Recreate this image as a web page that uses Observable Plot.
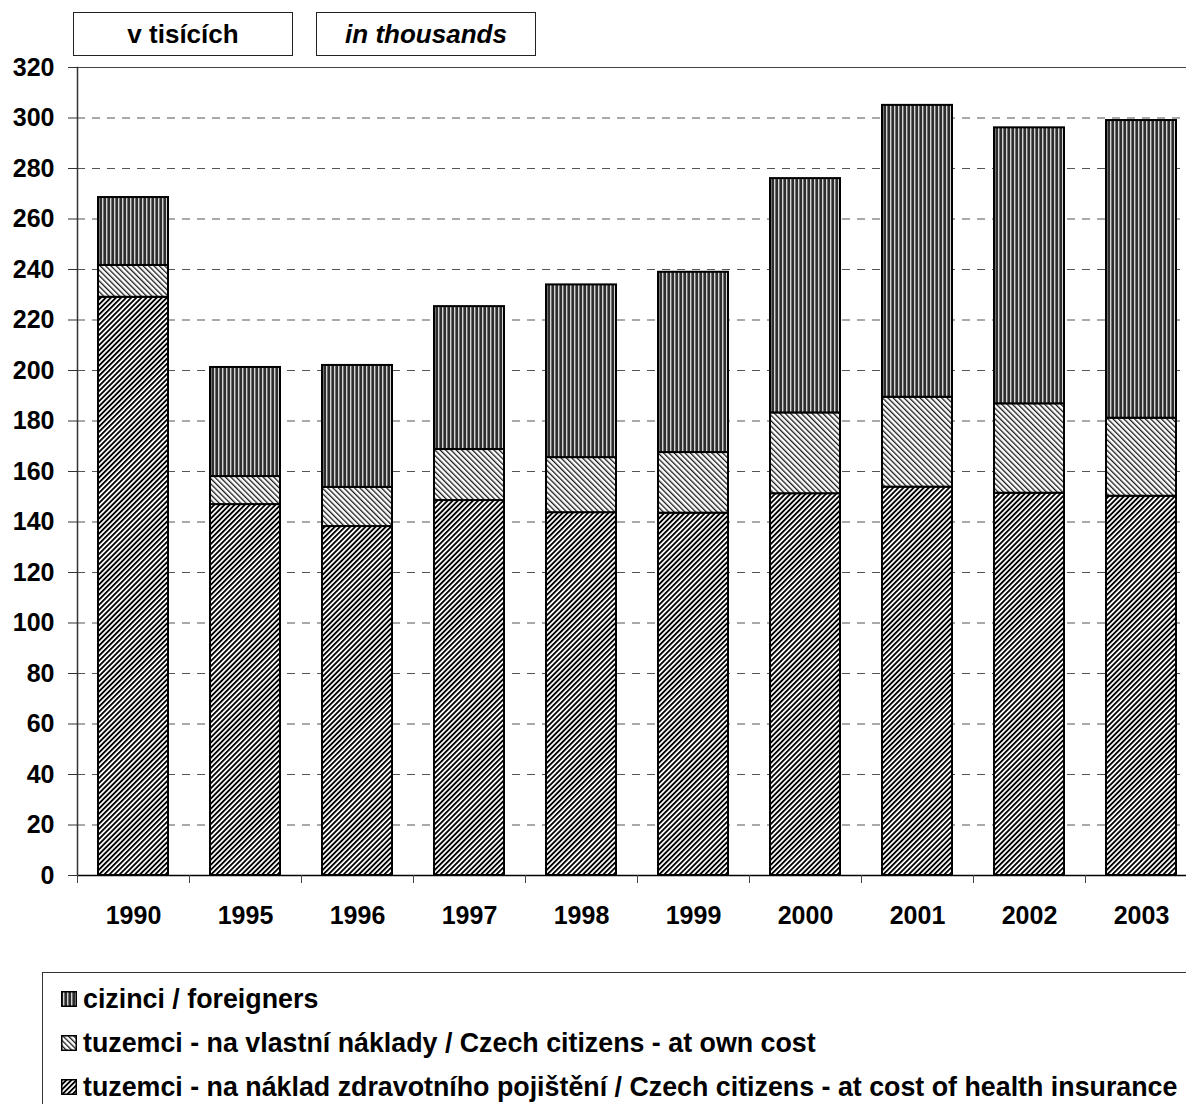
<!DOCTYPE html>
<html>
<head>
<meta charset="utf-8">
<script src="https://cdn.jsdelivr.net/npm/d3@7"></script>
<script src="https://cdn.jsdelivr.net/npm/@observablehq/plot@0.6"></script>
<style>
  html, body { margin: 0; padding: 0; background: #fff; overflow: hidden; }
  body { width: 1186px; height: 1104px; position: relative; font-family: "Liberation Sans", Arial, sans-serif; }
  .hbox { position: absolute; top: 12px; width: 218px; height: 42px; border: 1px solid #222; display: flex; align-items: center; justify-content: center; font-weight: bold; font-size: 26px; color: #000; background: #fff; }
  #chart { position: absolute; left: 0; top: 0; width: 1197px; }
  #chart svg { max-width: none !important; }
  #legend { position: absolute; left: 42px; top: 972px; width: 1160px; height: 150px; border: 1px solid #333; box-sizing: border-box; }
  .li { position: absolute; left: 18px; display: flex; align-items: center; font-weight: bold; font-size: 26.8px; color: #000; white-space: nowrap; line-height: 30px; }
  .li svg { margin-right: 6px; }
</style>
</head>
<body>
<svg width="0" height="0" style="position:absolute">
  <defs>
    <pattern id="pat-foreign" width="4" height="4" patternUnits="userSpaceOnUse">
      <rect width="4" height="4" fill="#2e2e2e"></rect>
      <rect x="2" width="1.4" height="4" fill="#d4d4d4"></rect>
    </pattern>
    <pattern id="pat-own" width="3.8" height="3.8" patternUnits="userSpaceOnUse" patternTransform="rotate(-45)">
      <rect width="3.8" height="3.8" fill="#fff"></rect>
      <rect x="0" width="1.3" height="3.8" fill="#1a1a1a"></rect>
    </pattern>
    <pattern id="pat-health" width="3.6" height="3.6" patternUnits="userSpaceOnUse" patternTransform="rotate(45)">
      <rect width="3.6" height="3.6" fill="#fff"></rect>
      <rect x="0" width="1.85" height="3.6" fill="#000"></rect>
    </pattern>
  </defs>
</svg>
<div class="hbox" style="left:73px">v tisících</div>
<div class="hbox" style="left:316px"><i>in thousands</i></div>
<div id="chart"></div>
<div id="legend"></div>
<script>
const years = ["1990","1995","1996","1997","1998","1999","2000","2001","2002","2003"];
const health = [229.0, 146.9, 138.2, 148.5, 143.7, 143.5, 151.2, 153.8, 151.4, 150.2];
const ownCost = [12.6, 11.1, 15.5, 20.2, 21.8, 24.0, 32.0, 35.6, 35.4, 30.9];
const foreigners = [26.9, 43.2, 48.3, 56.6, 68.4, 71.4, 92.8, 115.6, 109.3, 117.9];
const seriesNames = [
  "tuzemci - na náklad zdravotního pojištění / Czech citizens - at cost of health insurance",
  "tuzemci - na vlastní náklady / Czech citizens - at own cost",
  "cizinci / foreigners"
];
const seriesPatterns = ["url(#pat-health)", "url(#pat-own)", "url(#pat-foreign)"];
const yTicks = d3.range(0, 321, 20);

const rows = [];
[health, ownCost, foreigners].forEach((vals, si) => {
  years.forEach((y, i) => rows.push({year: y, value: vals[i], series: seriesNames[si], pat: seriesPatterns[si]}));
});

const chart = Plot.plot({
  width: 1197,
  height: 960,
  marginLeft: 77,
  marginRight: 0,
  marginTop: 67,
  marginBottom: 85,
  style: {fontFamily: "Liberation Sans, Arial, sans-serif", fontWeight: "bold", fontSize: "25px", color: "#000", background: "transparent", overflow: "visible", maxWidth: "none"},
  x: {domain: years, paddingInner: 0.375, paddingOuter: 0.1875, label: null},
  y: {domain: [0, 320], label: null},
  color: {type: "identity"},
  marks: [
    Plot.ruleY(yTicks.filter(t => t > 0 && t < 320), {stroke: "#555", strokeWidth: 1.2, strokeDasharray: "8,7"}),
    Plot.ruleY([320], {stroke: "#444", strokeWidth: 1.2}),
    Plot.barY(rows, Plot.stackY({x: "year", y: "value", z: "series", fill: "pat", stroke: "#000", strokeWidth: 2, order: null})),
    Plot.ruleY([0], {stroke: "#000", strokeWidth: 1.5}),
    Plot.frame({anchor: "left", stroke: "#333", strokeWidth: 1.5}),
    Plot.axisY({ticks: yTicks, tickSize: 9, tickPadding: 14, tickFormat: d => String(d), fontSize: 25, fontWeight: "bold", stroke: "#333"}),
    Plot.axisX({tickSize: 8, text: null, dx: -56, stroke: "#444"}),
    Plot.axisX({tickSize: 0, tickPadding: 31, fontSize: 25, fontWeight: "bold"})
  ]
});
chart.style.maxWidth = "none";
chart.style.height = "960px";
document.getElementById("chart").appendChild(chart);

// Legend
const legend = document.getElementById("legend");
const order = [2, 1, 0];
order.forEach((si, k) => {
  const item = document.createElement("div");
  item.className = "li";
  item.style.top = (11 + k * 44) + "px";
  item.innerHTML = `<svg width="16" height="16"><rect x="0.75" y="0.75" width="14.5" height="14.5" fill="${seriesPatterns[si]}" stroke="#000" stroke-width="1.5"></rect></svg><span>${seriesNames[si]}</span>`;
  legend.appendChild(item);
});
</script>
</body>
</html>
